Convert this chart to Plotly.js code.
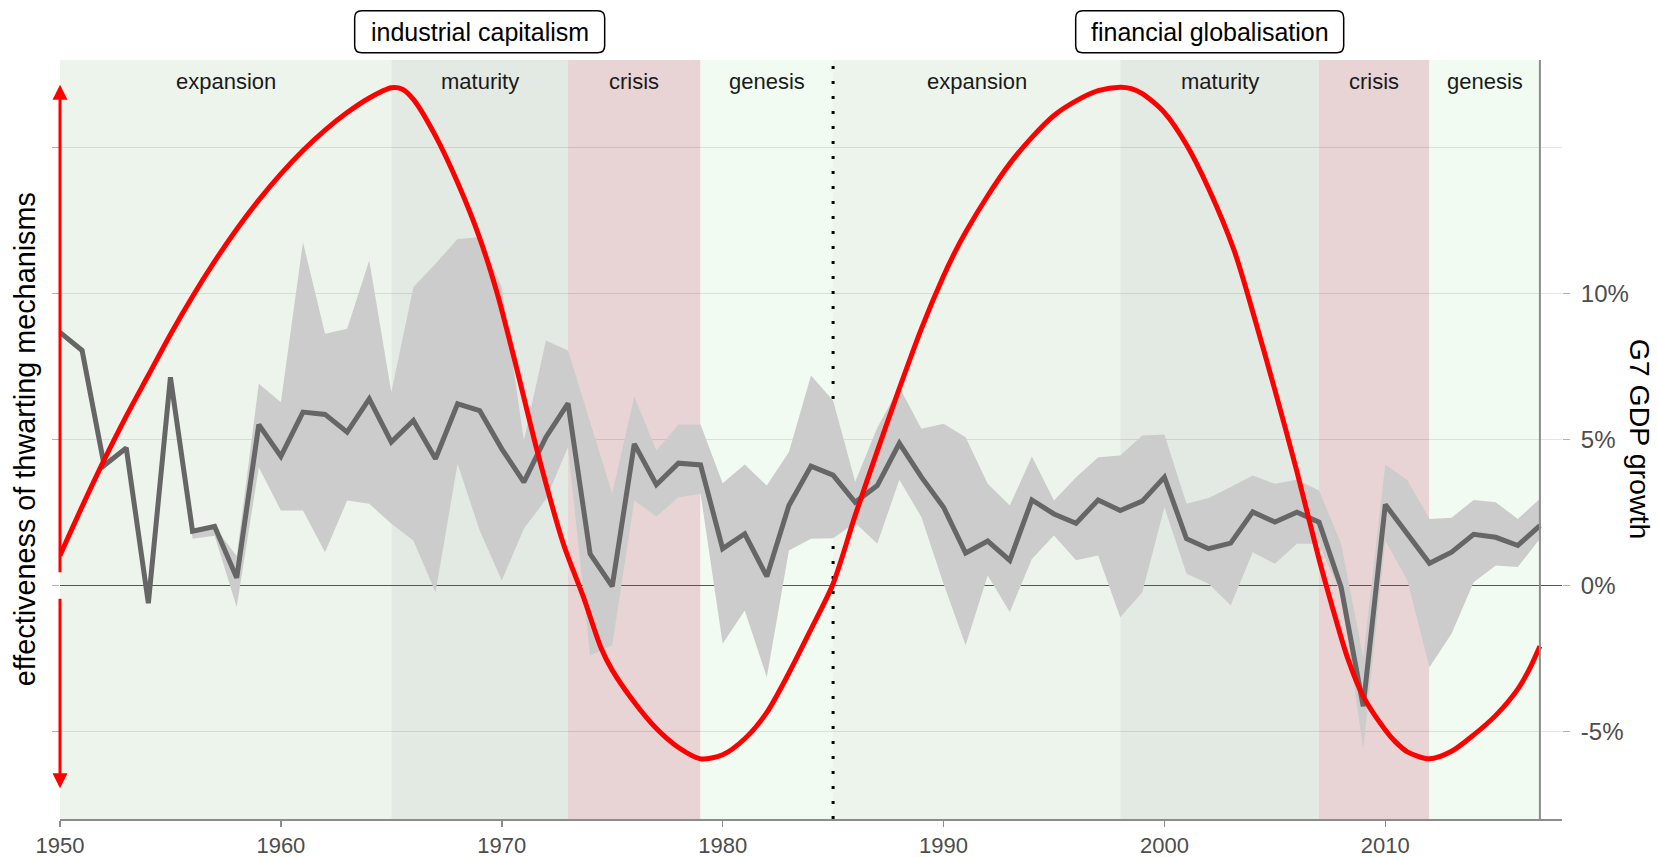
<!DOCTYPE html>
<html>
<head>
<meta charset="utf-8">
<script src="https://cdn.plot.ly/plotly-3.0.1.min.js"></script>
<style>html,body{margin:0;padding:0;background:#fff;}#chart{width:1657px;height:857px;}</style>
</head>
<body>
<div id="chart"></div>
<script>
// ---------- data ----------
const years = [];
for (let y = 1950; y <= 2017; y++) years.push(y);

const gdpMedian = [8.67,8.05,4.11,4.71,-0.61,7.13,1.86,2.02,0.26,5.51,
  4.42,5.94,5.86,5.25,6.39,4.91,5.65,4.34,6.22,5.99,
  4.68,3.54,5.08,6.24,1.08,-0.03,4.85,3.45,4.19,4.13,
  1.26,1.77,0.31,2.74,4.09,3.78,2.85,3.42,4.87,3.71,
  2.68,1.11,1.52,0.86,2.93,2.45,2.13,2.93,2.57,2.89,
  3.71,1.60,1.26,1.45,2.52,2.17,2.51,2.17,-0.06,-4.14,
  2.77,1.77,0.76,1.14,1.75,1.65,1.37,2.05];

const gdpMax = [8.67,8.05,4.11,4.71,-0.61,7.13,1.86,2.02,1.0,6.91,
  6.28,11.76,8.62,8.79,11.13,6.62,10.22,11.02,11.87,11.93,
  10.22,4.97,8.39,8.05,5.6,3.14,6.47,4.62,5.51,5.51,
  3.50,4.14,3.42,4.57,7.19,6.34,3.55,5.4,6.79,5.37,
  5.54,5.08,3.48,2.74,4.42,2.91,3.71,4.39,4.45,5.14,
  5.17,2.80,3.00,3.37,3.77,3.48,3.62,3.25,1.43,-2.45,
  4.14,3.60,2.28,2.32,2.93,2.85,2.28,2.97];

const gdpMin = [8.67,8.05,4.11,4.71,-0.61,7.13,1.6,1.7,-0.74,4.05,
  2.57,2.57,1.14,2.91,2.80,2.11,1.54,-0.23,4.17,1.88,
  0.17,1.94,2.95,4.74,-2.4,-2.05,2.91,2.36,3.02,3.14,
  -2.0,-0.86,-3.14,1.20,1.60,1.62,2.15,1.43,3.62,2.34,
  0.06,-2.05,0.34,-0.91,0.91,1.71,0.86,1.03,-1.09,-0.23,
  2.68,0.40,0.06,-0.68,1.14,0.74,1.43,1.43,-0.3,-5.59,
  1.54,0.17,-2.80,-1.65,0.11,0.68,0.63,1.60];

// effectiveness of thwarting mechanisms (red curve)
const effYears = [1950,1951,1952,1953,1954,1955,1956,1957,1958,1959,
  1960,1961,1962,1963,1964,1965,1965.5,1966,1967,1968,
  1969,1969.8,1970.7,1971.6,1972.8,1973.7,1974.5,1975,1976,1977,
  1978,1979,1980,1981,1982,1983,1984,1985,1986,1987,
  1988,1989,1990,1990.55,1991,1992,1993,1994,1995,1996,
  1997,1998,1998.5,1999,2000,2001,2002,2003.16,2004.07,2005,
  2006,2007,2007.55,2008.3,2009,2010,2010.45,2011,2012,2013,
  2014,2015,2016,2016.5,2017];
const effValues = [1.03,2.7,4.3,5.8,7.2,8.6,9.9,11.1,12.2,13.2,
  14.1,14.9,15.6,16.2,16.7,17.05,17.0,16.65,15.4,13.8,
  11.9,9.99,7.36,4.62,1.4,-0.4,-2.15,-2.9,-4.0,-4.9,
  -5.55,-5.94,-5.8,-5.25,-4.35,-3.0,-1.5,0.06,2.4,4.6,
  6.75,8.8,10.6,11.47,12.1,13.35,14.45,15.35,16.1,16.6,
  16.95,17.07,17.02,16.85,16.2,15.1,13.6,11.47,9.19,6.7,
  3.9,0.9,-0.6,-2.5,-3.8,-4.95,-5.35,-5.7,-5.94,-5.68,
  -5.12,-4.45,-3.55,-2.9,-2.08];

const phaseNames = ["expansion","maturity","crisis","genesis","expansion","maturity","crisis","genesis"];
const phaseStart = [1950,1965,1973,1979,1985,1998,2007,2012];
const phaseEnd   = [1965,1973,1979,1985,1998,2007,2012,2017];
const phaseColor = {expansion:"#edf4ec", maturity:"#e3e9e3", crisis:"#e8d4d4", genesis:"#f2fbf1"};

const eraNames = ["industrial capitalism","financial globalisation"];
const eraCentres = [1969, 2002.05];
const eraBoxWidth = [250, 268];

const xTicks = [1950,1960,1970,1980,1990,2000,2010];
const yTickVals = [-5,0,5,10];
const yTickText = ["-5%","0%","5%","10%"];

// ---------- chart ----------
const FONT = "Liberation Sans, Arial, Helvetica, sans-serif";
const XR = [1950, 2018], YR = [-8, 18];

const traces = [
  {x: years, y: gdpMin, type: "scatter", mode: "lines", line: {width: 0, color: "#cccccc"},
   hoverinfo: "skip", showlegend: false},
  {x: years, y: gdpMax, type: "scatter", mode: "lines", line: {width: 0, color: "#cccccc"},
   fill: "tonexty", fillcolor: "#cccccc", hoverinfo: "skip", showlegend: false},
  {x: years, y: gdpMedian, type: "scatter", mode: "lines",
   line: {width: 5, color: "#666666", shape: "linear"}, showlegend: false},
  {x: effYears, y: effValues, type: "scatter", mode: "lines", yaxis: "y2",
   line: {width: 5, color: "#ff0000", shape: "spline", smoothing: 0.8}, showlegend: false}
];

const shapes = [];
for (let i = 0; i < phaseNames.length; i++) {
  shapes.push({type: "rect", layer: "below", xref: "x", yref: "paper",
    x0: phaseStart[i], x1: phaseEnd[i], y0: 0, y1: 1,
    fillcolor: phaseColor[phaseNames[i]], line: {width: 0}});
}
shapes.push({type: "line", layer: "below", xref: "x", yref: "paper", x0: 1985, x1: 1985, y0: 0, y1: 1,
  line: {color: "#000000", width: 3, dash: "3px,12px"}});
shapes.push({type: "line", layer: "above", xref: "x", yref: "paper", x0: 2017, x1: 2017, y0: 0, y1: 1,
  line: {color: "#8c8c8c", width: 2}});

const boxY = 1.0373;
eraNames.forEach((n, i) => {
  const hw = eraBoxWidth[i] / 2, hh = 21, r = 7;
  const p = `M ${-hw + r},${-hh} L ${hw - r},${-hh} Q ${hw},${-hh} ${hw},${-hh + r} L ${hw},${hh - r} Q ${hw},${hh} ${hw - r},${hh} L ${-hw + r},${hh} Q ${-hw},${hh} ${-hw},${hh - r} L ${-hw},${-hh + r} Q ${-hw},${-hh} ${-hw + r},${-hh} Z`;
  shapes.push({type: "path", layer: "above", xref: "paper", yref: "paper",
    xsizemode: "pixel", ysizemode: "pixel",
    xanchor: (eraCentres[i] - XR[0]) / (XR[1] - XR[0]), yanchor: boxY,
    path: p, fillcolor: "#ffffff", line: {color: "#000000", width: 1.5}});
});

const annotations = [];
for (let i = 0; i < phaseNames.length; i++) {
  annotations.push({x: (phaseStart[i] + phaseEnd[i]) / 2, y: 0.9723, xref: "x", yref: "paper",
    text: phaseNames[i], showarrow: false, font: {family: FONT, size: 22, color: "#1a1a1a"},
    xanchor: "center", yanchor: "middle"});
}
eraNames.forEach((n, i) => {
  annotations.push({x: (eraCentres[i] - XR[0]) / (XR[1] - XR[0]), y: boxY, xref: "paper", yref: "paper",
    text: n, showarrow: false, font: {family: FONT, size: 25, color: "#000000"},
    xanchor: "center", yanchor: "middle"});
});
annotations.push({x: -0.0235, y: 0.5, xref: "paper", yref: "paper", text: "effectiveness of thwarting mechanisms",
  textangle: -90, showarrow: false, font: {family: FONT, size: 28.8, color: "#000000"},
  xanchor: "center", yanchor: "middle"});
annotations.push({x: 1.0525, y: 0.5, xref: "paper", yref: "paper", text: "G7 GDP growth",
  textangle: 90, showarrow: false, font: {family: FONT, size: 28.5, color: "#000000"},
  xanchor: "center", yanchor: "middle"});
// red arrows on the left
annotations.push({x: 1950, y: 17.15, xref: "x", yref: "y", ax: 1950, ay: 0.4, axref: "x", ayref: "y",
  text: "", showarrow: true, arrowhead: 2, arrowsize: 1, arrowwidth: 3, arrowcolor: "#ff0000", standoff: 0});
annotations.push({x: 1950, y: -6.95, xref: "x", yref: "y", ax: 1950, ay: -0.4, axref: "x", ayref: "y",
  text: "", showarrow: true, arrowhead: 2, arrowsize: 1, arrowwidth: 3, arrowcolor: "#ff0000", standoff: 0});

const layout = {
  width: 1657, height: 857,
  margin: {l: 60, r: 95, t: 60, b: 38, pad: 0},
  paper_bgcolor: "#ffffff", plot_bgcolor: "rgba(0,0,0,0)",
  font: {family: FONT},
  showlegend: false,
  xaxis: {range: XR, tickvals: xTicks, ticks: "outside", ticklen: 6, tickwidth: 1.5, tickcolor: "#8c8c8c",
    showline: true, linecolor: "#8c8c8c", linewidth: 2, showgrid: false, zeroline: false,
    tickfont: {family: FONT, size: 22, color: "#4d4d4d"}, fixedrange: true},
  yaxis: {range: YR, tickvals: [-5,0,5,10,15], showticklabels: false, ticks: "outside", ticklen: 7,
    tickcolor: "#b3b3b3", tickwidth: 1.2, showgrid: true, gridcolor: "rgba(0,0,0,0.1)", gridwidth: 1.3,
    zeroline: true, zerolinecolor: "#555555", zerolinewidth: 1.5, showline: false, fixedrange: true},
  yaxis2: {range: YR, overlaying: "y", side: "right", tickvals: yTickVals, ticktext: yTickText,
    ticks: "outside", ticklen: 7, tickcolor: "#b3b3b3", tickwidth: 1.2, showgrid: false, zeroline: false,
    showline: false, ticklabelstandoff: 6,
    tickfont: {family: FONT, size: 24, color: "#4d4d4d"}, fixedrange: true},
  shapes: shapes,
  annotations: annotations
};

Plotly.newPlot("chart", traces, layout, {staticPlot: true, displayModeBar: false});
</script>
</body>
</html>
